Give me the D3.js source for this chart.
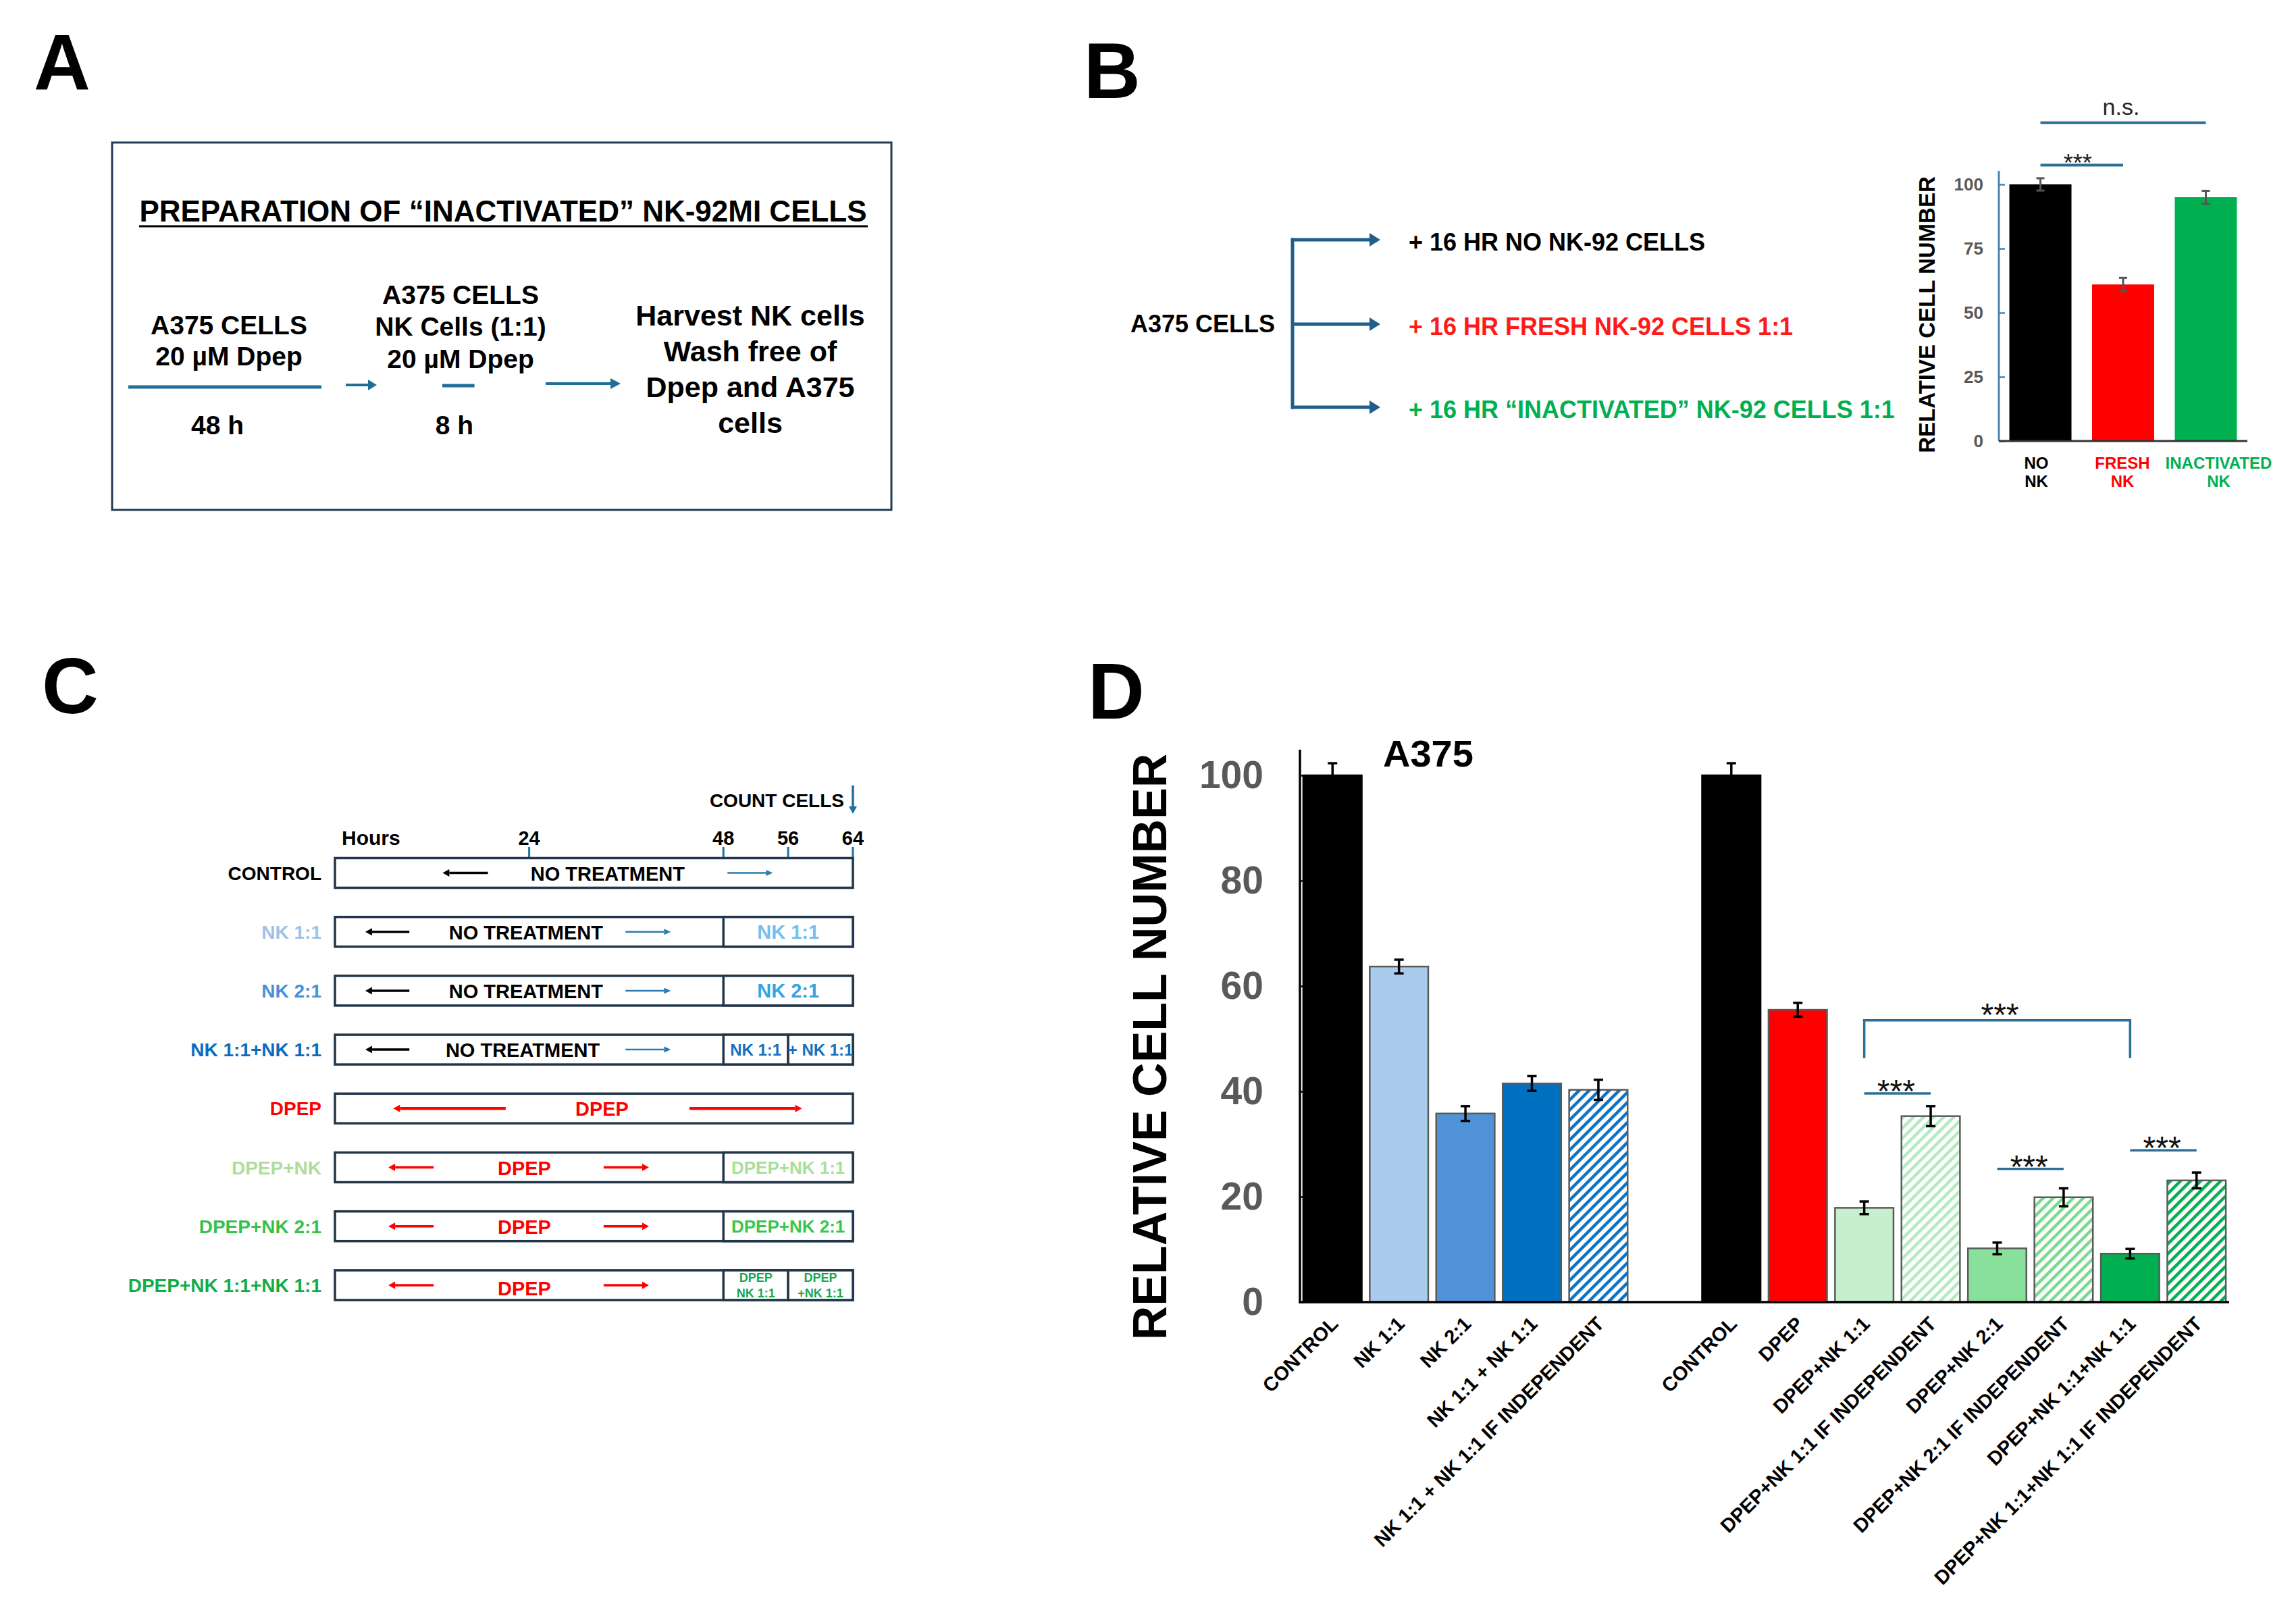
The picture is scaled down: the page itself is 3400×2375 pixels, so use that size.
<!DOCTYPE html>
<html><head><meta charset="utf-8">
<script src="https://cdn.jsdelivr.net/npm/d3@7"></script>
<style>body{margin:0;background:#fff}svg{display:block}</style>
</head><body>
<svg id="fig" width="3400" height="2375"></svg>
<script>
// ---------- DATA ----------
// Panel A (protocol steps, durations in hours)
const aStepLines = [["A375 CELLS","20 µM Dpep"],["A375 CELLS","NK Cells (1:1)","20 µM Dpep"]];
const aStepHours = [48, 8];
const aFinalLines = ["Harvest NK cells","Wash free of","Dpep and A375","cells"];
// Panel B
const bTreatments = ["+ 16 HR NO NK-92 CELLS","+ 16 HR FRESH NK-92 CELLS 1:1","+ 16 HR “INACTIVATED” NK-92 CELLS 1:1"];
const bCategories = [["NO","NK"],["FRESH","NK"],["INACTIVATED","NK"]];
const bValues = [100, 61, 95];
const bErrors = [2.4, 2.6, 2.5];
const bTicks = [0, 25, 50, 75, 100];
// Panel C (hours)
const cRowLabels = ["CONTROL","NK 1:1","NK 2:1","NK 1:1+NK 1:1","DPEP","DPEP+NK","DPEP+NK 2:1","DPEP+NK 1:1+NK 1:1"];
const cBaseText = ["NO TREATMENT","NO TREATMENT","NO TREATMENT","NO TREATMENT","DPEP","DPEP","DPEP","DPEP"];
const cAdded = [
  [],
  [{from:48,to:64,text:["NK 1:1"]}],
  [{from:48,to:64,text:["NK 2:1"]}],
  [{from:48,to:56,text:["NK 1:1"]},{from:56,to:64,text:["+ NK 1:1"]}],
  [],
  [{from:48,to:64,text:["DPEP+NK 1:1"]}],
  [{from:48,to:64,text:["DPEP+NK 2:1"]}],
  [{from:48,to:56,text:["DPEP","NK 1:1"]},{from:56,to:64,text:["DPEP","+NK 1:1"]}]
];
const cTicks = [24, 48, 56, 64];
const cTotalHours = 64;
// Panel D
const dLabels = ["CONTROL","NK 1:1","NK 2:1","NK 1:1 + NK 1:1","NK 1:1 + NK 1:1 IF INDEPENDENT",
  "CONTROL","DPEP","DPEP+NK 1:1","DPEP+NK 1:1 IF INDEPENDENT","DPEP+NK 2:1","DPEP+NK 2:1 IF INDEPENDENT",
  "DPEP+NK 1:1+NK 1:1","DPEP+NK 1:1+NK 1:1 IF INDEPENDENT"];
const dSlots = [0,1,2,3,4,6,7,8,9,10,11,12,13];
const dValues = [100, 63.7, 35.8, 41.5, 40.3, 100, 55.5, 17.9, 35.3, 10.2, 19.9, 9.2, 23.1];
const dErrors = [2.3, 1.3, 1.4, 1.4, 1.9, 2.3, 1.3, 1.2, 1.9, 1.1, 1.7, 0.9, 1.5];
const dHatched = [false,false,false,false,true,false,false,false,true,false,true,false,true];
const dTicks = [0, 20, 40, 60, 80, 100];
// significance: bar indices and bracket level (data units)
const dSig = [{a:7,b:8,level:39.6},{a:9,b:10,level:25.3},{a:11,b:12,level:28.8}];
const dSigBig = {a:7, b:11, level:53.5, leg:46.3};
const bSig = [{a:0,b:1,level:107.5,label:"***"},{a:0,b:2,level:124,label:"n.s."}];

// ---------- STYLES ----------
const F = '"Liberation Sans", Arial, Helvetica, sans-serif';
const bColors = ["#000000","#ff0000","#00b050"];
const bTreatColors = ["#000000","#ff1a1a","#00b050"];
const bLabelShift = [-6, -1, 19];
const cLabelColors = ["#000000","#9dc3e6","#4a90d9","#0a6cc0","#ff0000","#b0dc9e","#38c04e","#10ad48"];
const cAddedColors = ["#000","#74c0ec","#35a3e2","#176fbf","#000","#a8df9c","#38c650","#16a84a"];
const dColors = ["#000000","#a9cbec","#5193d8","#0070c0","#0a72c6","#000000","#ff0000","#c6efce","#b4eabf","#88e19a","#79d98e","#00b050","#00b050"];
const sigBlue = "#2c6f96";

const svg = d3.select("#fig");
function txt(g, x, y, s, o = {}) {
  return g.append("text").attr("x", x).attr("y", y).text(s)
    .attr("font-family", F).attr("font-size", o.size || 30)
    .attr("font-weight", o.weight || "bold").attr("fill", o.color || "#000")
    .attr("text-anchor", o.anchor || "start");
}
function arrow(g, x1, y1, x2, y2, color, w, hl, hw) {
  const a = Math.atan2(y2 - y1, x2 - x1);
  const bx = x2 - hl * Math.cos(a), by = y2 - hl * Math.sin(a);
  g.append("line").attr("x1", x1).attr("y1", y1).attr("x2", bx).attr("y2", by)
    .attr("stroke", color).attr("stroke-width", w);
  const px = -Math.sin(a) * hw, py = Math.cos(a) * hw;
  g.append("path").attr("d", `M${x2},${y2}L${bx + px},${by + py}L${bx - px},${by - py}Z`).attr("fill", color);
}
function line(g, x1, y1, x2, y2, color, w) {
  return g.append("line").attr("x1", x1).attr("y1", y1).attr("x2", x2).attr("y2", y2)
    .attr("stroke", color).attr("stroke-width", w);
}

// panel letters
[["A",50,133],["B",1605,145],["C",62,1056],["D",1611,1064]].forEach(([l,x,y]) => txt(svg, x, y, l, {size:116}));

// ---------- PANEL A ----------
(function(){
  const g = svg.append("g");
  g.append("rect").attr("x",166).attr("y",211).attr("width",1154).attr("height",544)
    .attr("fill","none").attr("stroke","#1f3a55").attr("stroke-width",3);
  txt(g, 745, 328, "PREPARATION OF “INACTIVATED” NK-92MI CELLS", {size:44, anchor:"middle"});
  line(g, 206, 335, 1285, 335, "#000", 3);
  const hx = d3.scaleLinear().domain([0, 48]).range([0, 286]);
  const lineCol = "#1f6f96";
  txt(g, 339, 495, aStepLines[0][0], {size:39, anchor:"middle"});
  txt(g, 339, 541, aStepLines[0][1], {size:39, anchor:"middle"});
  line(g, 190, 573, 190 + hx(aStepHours[0]), 573, lineCol, 5);
  txt(g, 322, 643, aStepHours[0] + " h", {size:39, anchor:"middle"});
  arrow(g, 512, 570, 558, 570, lineCol, 4, 13, 8);
  txt(g, 682, 450, aStepLines[1][0], {size:39, anchor:"middle"});
  txt(g, 682, 497, aStepLines[1][1], {size:39, anchor:"middle"});
  txt(g, 682, 545, aStepLines[1][2], {size:39, anchor:"middle"});
  line(g, 655, 571, 655 + hx(aStepHours[1]), 571, lineCol, 5);
  txt(g, 673, 643, aStepHours[1] + " h", {size:39, anchor:"middle"});
  arrow(g, 808, 568, 919, 568, lineCol, 4, 15, 8);
  aFinalLines.forEach((s, i) => txt(g, 1111, 482 + i * 53, s, {size:43, anchor:"middle"}));
})();

// ---------- PANEL B ----------
(function(){
  const g = svg.append("g");
  const col = "#1f5f8a";
  txt(g, 1888, 492, "A375 CELLS", {size:36, anchor:"end"});
  const ys = [355, 480, 603];
  line(g, 1914, ys[0] - 2.5, 1914, ys[2] + 2.5, col, 5);
  ys.forEach((y, i) => {
    arrow(g, 1912, y, 2044, y, col, 5, 16, 10);
    txt(g, 2086, y + 16, bTreatments[i], {size:36, color:bTreatColors[i]});
  });
  const y = d3.scaleLinear().domain([0, 100]).range([653, 273]);
  const x = d3.scaleBand().domain(d3.range(bValues.length)).range([2960, 3328]).paddingInner(0.249).paddingOuter(0.127);
  g.selectAll(".bb").data(bValues).enter().append("rect")
    .attr("x", (d, i) => x(i)).attr("width", x.bandwidth())
    .attr("y", d => y(d)).attr("height", d => y(0) - y(d)).attr("fill", (d, i) => bColors[i]);
  bValues.forEach((v, i) => {
    const cx = x(i) + x.bandwidth() / 2;
    line(g, cx, y(v + bErrors[i]), cx, y(v - bErrors[i]), "#555", 3);
    line(g, cx - 6, y(v + bErrors[i]), cx + 6, y(v + bErrors[i]), "#555", 3);
    line(g, cx - 6, y(v - bErrors[i]), cx + 6, y(v - bErrors[i]), "#555", 3);
  });
  const ax = g.append("g").attr("transform", "translate(2960,0)")
    .call(d3.axisLeft(y).tickValues(bTicks).tickSizeInner(-9).tickSizeOuter(0).tickPadding(23));
  ax.select(".domain").remove();
  ax.selectAll(".tick line").attr("stroke", "#4a86ad").attr("stroke-width", 2.5);
  ax.selectAll(".tick text").attr("font-family", F).attr("font-size", 26).attr("font-weight", "bold").attr("fill", "#595959");
  line(g, 2960, 653, 2960, 253, "#4a86ad", 3);
  line(g, 2960, 653, 3328, 653, "#333", 3);
  g.append("text").attr("transform", "translate(2865,466) rotate(-90)").attr("text-anchor", "middle")
    .attr("font-family", F).attr("font-size", 33).attr("font-weight", "bold").text("RELATIVE CELL NUMBER");
  bCategories.forEach((ls, i) => {
    const cx = x(i) + x.bandwidth() / 2 + bLabelShift[i];
    ls.forEach((s, j) => txt(g, cx, 694 + j * 27, s, {size:24, anchor:"middle", color:bColors[i]}));
  });
  bSig.forEach(s => {
    const x1 = x(s.a) + x.bandwidth() / 2, x2 = x(s.b) + x.bandwidth() / 2, ly = y(s.level);
    line(g, x1, ly, x2, ly, sigBlue, 4);
    if (s.label === "***") txt(g, (x1 + x2) / 2 - 6, ly + 9, s.label, {size:36, weight:"normal", anchor:"middle", color:"#222"});
    else txt(g, (x1 + x2) / 2 - 3, ly - 12, s.label, {size:34, weight:"normal", anchor:"middle", color:"#222"});
  });
})();

// ---------- PANEL C ----------
(function(){
  const g = svg.append("g");
  const t = d3.scaleLinear().domain([0, cTotalHours]).range([496, 1263]);
  const boxCol = "#22364a", tickCol = "#1f6f9f", teal = "#2b7bb0";
  const top0 = 1270.5, step = 87.2, h = 44;
  txt(g, 506, 1251, "Hours", {size:30});
  cTicks.forEach(v => {
    line(g, t(v), 1254, t(v), 1270.5, tickCol, 3);
    txt(g, t(v), 1251, String(v), {size:29, anchor:"middle"});
  });
  txt(g, 1250, 1195, "COUNT CELLS", {size:28, anchor:"end"});
  arrow(g, 1263, 1163, 1263, 1205, tickCol, 3.5, 11, 6);
  cRowLabels.forEach((lab, i) => {
    const y0 = top0 + i * step, cy = y0 + h / 2;
    txt(g, 476, cy + 10, lab, {size:28, color:cLabelColors[i], anchor:"end"});
    g.append("rect").attr("x", t(0)).attr("y", y0).attr("width", t(cTotalHours) - t(0)).attr("height", h)
      .attr("fill", "#fff").attr("stroke", boxCol).attr("stroke-width", 3.5);
    const added = cAdded[i];
    added.forEach(seg => {
      g.append("rect").attr("x", t(seg.from)).attr("y", y0).attr("width", t(seg.to) - t(seg.from)).attr("height", h)
        .attr("fill", "#fff").attr("stroke", boxCol).attr("stroke-width", 3.5);
      const cx = t((seg.from + seg.to) / 2);
      if (seg.text.length === 1) {
        const sz = (seg.to - seg.from) < 16 ? 24 : (seg.text[0].length > 8 ? 26 : 29);
        txt(g, cx, cy + sz * 0.36, seg.text[0], {size:sz, anchor:"middle", color:cAddedColors[i]});
      } else {
        seg.text.forEach((s, j) => txt(g, cx, y0 + 17 + j * 23, s, {size:18, anchor:"middle", color:cAddedColors[i]}));
      }
    });
    const isDpep = cBaseText[i] === "DPEP";
    const hasAdd = added.length > 0;
    let L, R, tc;
    if (!isDpep) {
      if (!hasAdd) { L = [18.9, 13.3]; R = [48.5, 54.1]; tc = 33.7; }
      else { L = [9.2, 3.75]; R = [35.9, 41.5]; tc = i === 3 ? 23.2 : 23.6; }
      arrow(g, t(L[0]), cy, t(L[1]), cy, "#000", 3.5, 10, 5.5);
      arrow(g, t(R[0]), cy, t(R[1]), cy, teal, 2.5, 10, 4.5);
    } else {
      if (!hasAdd) { L = [21.1, 7.2]; R = [43.8, 57.7]; tc = 33; }
      else { L = [12.2, 6.6]; R = [33.2, 38.8]; tc = 23.4; }
      arrow(g, t(L[0]), cy, t(L[1]), cy, "#ff0000", hasAdd ? 3.5 : 4.5, 10, 5.5);
      arrow(g, t(R[0]), cy, t(R[1]), cy, "#ff0000", hasAdd ? 3.5 : 4.5, 10, 5.5);
    }
    const dy = (i === 7) ? 15 : 11;
    txt(g, t(tc), cy + dy, cBaseText[i], {size:29, anchor:"middle", color: isDpep ? "#ff0000" : "#000"});
  });
})();

// ---------- PANEL D ----------
(function(){
  const g = svg.append("g");
  const defs = svg.append("defs");
  const y = d3.scaleLinear().domain([0, 100]).range([1928, 1148]);
  const x = d3.scaleBand().domain(d3.range(14)).range([1925, 3301]).paddingInner(0.12).paddingOuter(0.05);
  dValues.forEach((v, i) => {
    if (dHatched[i]) {
      const p = defs.append("pattern").attr("id", "hatch" + i).attr("patternUnits", "userSpaceOnUse")
        .attr("width", 10.5).attr("height", 10.5).attr("patternTransform", "rotate(45)");
      p.append("rect").attr("width", 10.5).attr("height", 10.5).attr("fill", "#fff");
      p.append("rect").attr("width", 4.5).attr("height", 10.5).attr("fill", dColors[i]);
    }
  });
  const cxs = dSlots.map(s => x(s) + x.bandwidth() / 2);
  g.selectAll(".db").data(dValues).enter().append("rect")
    .attr("x", (d, i) => x(dSlots[i])).attr("width", x.bandwidth())
    .attr("y", d => y(d)).attr("height", d => y(0) - y(d))
    .attr("fill", (d, i) => dHatched[i] ? `url(#hatch${i})` : dColors[i])
    .attr("stroke", (d, i) => dColors[i] === "#000000" ? "#000" : "#5a5a5a").attr("stroke-width", 2.5);
  dValues.forEach((v, i) => {
    const cx = cxs[i], e = dErrors[i];
    line(g, cx, y(v + e), cx, y(v - e), "#000", 3.5);
    line(g, cx - 7, y(v + e), cx + 7, y(v + e), "#000", 3.5);
    line(g, cx - 7, y(v - e), cx + 7, y(v - e), "#000", 3.5);
  });
  const ax = g.append("g").attr("transform", "translate(1925,0)")
    .call(d3.axisLeft(y).tickValues(dTicks).tickSizeInner(-7).tickSizeOuter(0).tickPadding(54));
  ax.select(".domain").remove();
  ax.selectAll(".tick line").attr("stroke", "#000").attr("stroke-width", 2.5);
  ax.selectAll(".tick text").attr("font-family", F).attr("font-size", 57).attr("font-weight", "bold").attr("fill", "#595959");
  line(g, 1925, 1929.5, 1925, 1110, "#000", 3.5);
  line(g, 1923, 1928, 3301, 1928, "#000", 3.5);
  g.append("text").attr("transform", "translate(1727,1550) rotate(-90)").attr("text-anchor", "middle")
    .attr("font-family", F).attr("font-size", 70).attr("font-weight", "bold").text("RELATIVE CELL NUMBER");
  txt(g, 2048, 1135, "A375", {size:56});
  dLabels.forEach((s, i) => {
    g.append("text").attr("transform", `translate(${cxs[i] + 10},${1962}) rotate(-45)`)
      .attr("text-anchor", "end").attr("font-family", F).attr("font-size", 29).attr("font-weight", "bold").text(s);
  });
  dSig.forEach(s => {
    const ly = y(s.level);
    line(g, cxs[s.a], ly, cxs[s.b], ly, sigBlue, 3.5);
    txt(g, (cxs[s.a] + cxs[s.b]) / 2 - 2, ly + 13, "***", {size:48, weight:"normal", anchor:"middle", color:"#111"});
  });
  const by = y(dSigBig.level), bl = y(dSigBig.leg);
  g.append("path").attr("d", `M${cxs[dSigBig.a]},${bl}V${by}H${cxs[dSigBig.b]}V${bl}`)
    .attr("fill", "none").attr("stroke", sigBlue).attr("stroke-width", 3.5);
  txt(g, (cxs[dSigBig.a] + cxs[dSigBig.b]) / 2 + 4, by + 8, "***", {size:48, weight:"normal", anchor:"middle", color:"#111"});
})();
</script>
</body></html>
